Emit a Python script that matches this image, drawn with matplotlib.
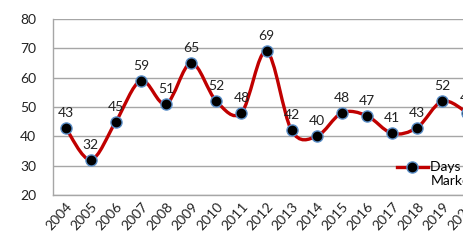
import numpy as np
import matplotlib.pyplot as plt
from matplotlib.path import Path
from matplotlib.patches import PathPatch
from matplotlib.lines import Line2D
from matplotlib.legend_handler import HandlerLine2D

years = ['2004', '2005', '2006', '2007', '2008', '2009', '2010', '2011', '2012',
         '2013', '2014', '2015', '2016', '2017', '2018', '2019', '2020']
days = [43, 32, 45, 59, 51, 65, 52, 48, 69, 42, 40, 48, 47, 41, 43, 52, 48]

plt.rcParams['font.family'] = ['Lato', 'DejaVu Sans']

fig = plt.figure(figsize=(4.63, 2.44), dpi=100)
ax = fig.add_axes([53/463, 49/244, 427/463, 176/244])

x = np.arange(len(years))
y = np.array(days, dtype=float)

# smooth curve (catmull-rom style bezier, like excel's smoothed line)
verts = [(x[0], y[0])]
codes = [Path.MOVETO]
for i in range(len(x) - 1):
    p0 = np.array([x[max(i-1, 0)], y[max(i-1, 0)]])
    p1 = np.array([x[i], y[i]])
    p2 = np.array([x[i+1], y[i+1]])
    p3 = np.array([x[min(i+2, len(x)-1)], y[min(i+2, len(x)-1)]])
    c1 = p1 + (p2 - p0) / 6
    c2 = p2 - (p3 - p1) / 6
    verts += [tuple(c1), tuple(c2), tuple(p2)]
    codes += [Path.CURVE4] * 3
ax.add_patch(PathPatch(Path(verts, codes), facecolor='none', edgecolor='#C00000',
                       lw=2.4, zorder=3, capstyle='round'))
ax.plot(x, y, ls='none', marker='o', ms=8, mfc='black', mec='#5B8FC9', mew=1.0, zorder=4)

for xi, yi in zip(x, days):
    ax.annotate(str(yi), (xi, yi), xytext=(0, 6.5), textcoords='offset points',
                ha='center', va='bottom', fontsize=10, color='#222222')

ax.set_xlim(-0.5, len(years) - 0.5)
ax.set_ylim(20, 80)
ax.set_yticks(range(20, 81, 10))
ax.set_xticks(x)
ax.set_xticklabels(years, rotation=48, ha='right', rotation_mode='anchor', fontsize=10)
ax.tick_params(axis='both', length=0, labelsize=10, colors='#222222')
ax.tick_params(axis='y', pad=12)
ax.tick_params(axis='x', pad=4)
ax.grid(axis='y', color='#A6A6A6', lw=1.0)
ax.set_axisbelow(True)
for s in ['top', 'right']:
    ax.spines[s].set_visible(False)
for s in ['left', 'bottom']:
    ax.spines[s].set_color('#A6A6A6')
    ax.spines[s].set_linewidth(1.0)


# legend handle sits level with the first line of the label
class TopHandler(HandlerLine2D):
    def create_artists(self, legend, orig_handle, xdescent, ydescent,
                       width, height, fontsize, trans):
        return super().create_artists(legend, orig_handle, xdescent, ydescent - 11,
                                      width, height, fontsize, trans)


handle = Line2D([], [], color='#C00000', lw=2.4, marker='o', ms=8,
                mfc='black', mec='#5B8FC9', mew=1.0)
fig.legend([handle], ['Days on\nMarket'], loc='upper left',
           bbox_to_anchor=(397/463, 1 - 161/244), frameon=False, fontsize=10,
           handlelength=2.2, handletextpad=0.2, borderpad=0, labelspacing=0,
           borderaxespad=0, handler_map={Line2D: TopHandler()})

fig.savefig('out.png', dpi=100)
